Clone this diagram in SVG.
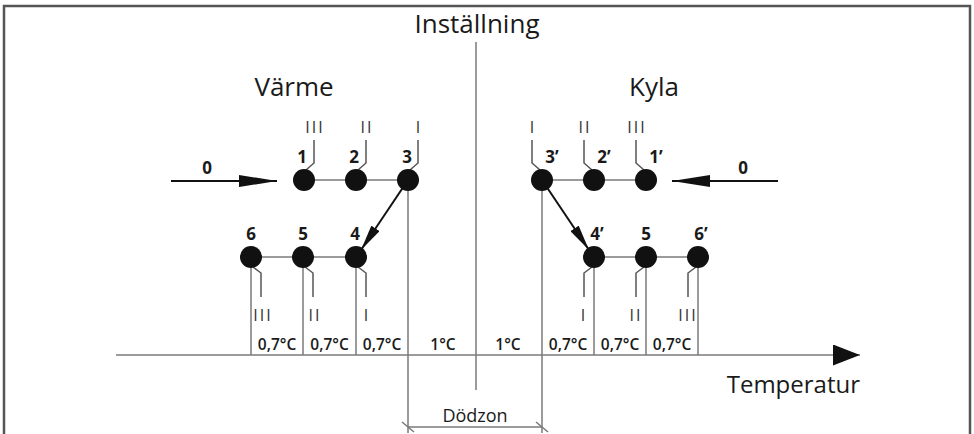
<svg xmlns="http://www.w3.org/2000/svg" width="974" height="434" viewBox="0 0 974 434">
<style>
text{font-family:"Open Sans","Noto Sans","Liberation Sans",sans-serif;fill:#1a1a1a}
.num{font-size:17px;font-weight:700;text-anchor:middle}
.rom{font-size:16px;text-anchor:middle;font-weight:400;letter-spacing:2px;fill:#333}
.deg{font-size:15.5px;font-weight:600;text-anchor:middle}
.thin{stroke:#7a7a7a;stroke-width:1.5;fill:none}
.sw{stroke:#555;stroke-width:1.5;fill:none}
.dot{fill:#111}
.arr{stroke:#111;stroke-width:2;fill:none}
</style>
<defs>
<marker id="hd" viewBox="0 0 26 10" refX="26" refY="5" markerWidth="26" markerHeight="10" markerUnits="userSpaceOnUse" orient="auto"><path d="M0,0 L26,5 L0,10 Z" fill="#111"/></marker>
<marker id="hl" viewBox="0 0 38 12" refX="38" refY="6" markerWidth="38" markerHeight="12" markerUnits="userSpaceOnUse" orient="auto"><path d="M0,0 L38,6 L0,12 Z" fill="#111"/></marker>
<marker id="ha" viewBox="0 0 27 21" refX="27" refY="10.5" markerWidth="27" markerHeight="21" markerUnits="userSpaceOnUse" orient="auto"><path d="M0,0 L27,10.5 L0,21 Z" fill="#111"/></marker>
</defs>

<path d="M4,434 V6 H970 V434" fill="none" stroke="#555" stroke-width="2.5"/>

<g id="labels">
<text x="477" y="33" text-anchor="middle" style="font-size:26px">Inställning</text>
<text x="294" y="96" text-anchor="middle" style="font-size:26px">Värme</text>
<text x="654" y="96" text-anchor="middle" style="font-size:26px">Kyla</text>
<text x="860" y="393" text-anchor="end" style="font-size:24px">Temperatur</text>
<text x="475" y="422" text-anchor="middle" style="font-size:18px">Dödzon</text>
</g>

<g id="connectors">
<line x1="476" y1="42" x2="476" y2="390" class="thin"/>
<line x1="304" y1="180" x2="408" y2="180" class="thin"/>
<line x1="542" y1="180" x2="646" y2="180" class="thin"/>
<line x1="251" y1="257" x2="356" y2="257" class="thin"/>
<line x1="594" y1="257" x2="698" y2="257" class="thin"/>
<line x1="251" y1="257" x2="251" y2="355" class="thin"/>
<line x1="303" y1="257" x2="303" y2="355" class="thin"/>
<line x1="356" y1="257" x2="356" y2="355" class="thin"/>
<line x1="594" y1="257" x2="594" y2="355" class="thin"/>
<line x1="646" y1="257" x2="646" y2="355" class="thin"/>
<line x1="698" y1="257" x2="698" y2="355" class="thin"/>
<line x1="408" y1="180" x2="408" y2="433" class="thin"/>
<line x1="542" y1="180" x2="542" y2="433" class="thin"/>
<line x1="408" y1="427" x2="542" y2="427" class="thin"/>
<line x1="402" y1="422" x2="414" y2="432" class="thin"/>
<line x1="536" y1="422" x2="548" y2="432" class="thin"/>
<line x1="116" y1="355" x2="860" y2="355" class="thin" marker-end="url(#ha)"/>
<line x1="171" y1="181" x2="277" y2="181" class="arr" marker-end="url(#hl)"/>
<line x1="778" y1="181" x2="672" y2="181" class="arr" marker-end="url(#hl)"/>
<line x1="408" y1="180" x2="361" y2="250" class="arr" marker-end="url(#hd)"/>
<line x1="542" y1="180" x2="589" y2="250" class="arr" marker-end="url(#hd)"/>
<text x="207" y="174" class="num">0</text>
<text x="743" y="174" class="num">0</text>
</g>

<g id="n1"><path d="M306,170 L314,163 V140" class="sw"/><circle cx="304" cy="180" r="11" class="dot"/><text x="302" y="163" class="num">1</text><text x="315" y="133" class="rom">III</text></g>
<g id="n2"><path d="M358,170 L366,163 V140" class="sw"/><circle cx="356" cy="180" r="11" class="dot"/><text x="354" y="163" class="num">2</text><text x="367" y="133" class="rom">II</text></g>
<g id="n3"><path d="M410,170 L418,163 V140" class="sw"/><circle cx="408" cy="180" r="11" class="dot"/><text x="407" y="163" class="num">3</text><text x="419" y="133" class="rom">I</text></g>

<g id="n3p"><path d="M540,170 L532,163 V140" class="sw"/><circle cx="542" cy="180" r="11" class="dot"/><text x="552" y="163" class="num">3’</text><text x="533" y="133" class="rom">I</text></g>
<g id="n2p"><path d="M592,170 L584,163 V140" class="sw"/><circle cx="594" cy="180" r="11" class="dot"/><text x="604" y="163" class="num">2’</text><text x="585" y="133" class="rom">II</text></g>
<g id="n1p"><path d="M644,170 L636,163 V140" class="sw"/><circle cx="646" cy="180" r="11" class="dot"/><text x="656" y="163" class="num">1’</text><text x="637" y="133" class="rom">III</text></g>

<g id="n6"><path d="M253,267 L261,273 V297" class="sw"/><circle cx="251" cy="257" r="11" class="dot"/><text x="251" y="240" class="num">6</text><text x="263" y="321" class="rom">III</text></g>
<g id="n5"><path d="M305,267 L313,273 V297" class="sw"/><circle cx="303" cy="257" r="11" class="dot"/><text x="303" y="240" class="num">5</text><text x="315" y="321" class="rom">II</text></g>
<g id="n4"><path d="M358,267 L366,273 V297" class="sw"/><circle cx="356" cy="257" r="11" class="dot"/><text x="355" y="240" class="num">4</text><text x="367" y="321" class="rom">I</text></g>

<g id="n4p"><path d="M592,267 L584,273 V297" class="sw"/><circle cx="594" cy="257" r="11" class="dot"/><text x="597" y="240" class="num">4’</text><text x="584" y="321" class="rom">I</text></g>
<g id="n5p"><path d="M644,267 L636,273 V297" class="sw"/><circle cx="646" cy="257" r="11" class="dot"/><text x="646" y="240" class="num">5</text><text x="636" y="321" class="rom">II</text></g>
<g id="n6p"><path d="M696,267 L688,273 V297" class="sw"/><circle cx="698" cy="257" r="11" class="dot"/><text x="701" y="240" class="num">6’</text><text x="688" y="321" class="rom">III</text></g>

<g id="scale">
<text x="277" y="350" class="deg">0,7°C</text>
<text x="329.5" y="350" class="deg">0,7°C</text>
<text x="382" y="350" class="deg">0,7°C</text>
<text x="443" y="350" class="deg">1°C</text>
<text x="508" y="350" class="deg">1°C</text>
<text x="568" y="350" class="deg">0,7°C</text>
<text x="620" y="350" class="deg">0,7°C</text>
<text x="672" y="350" class="deg">0,7°C</text>
</g>
</svg>
